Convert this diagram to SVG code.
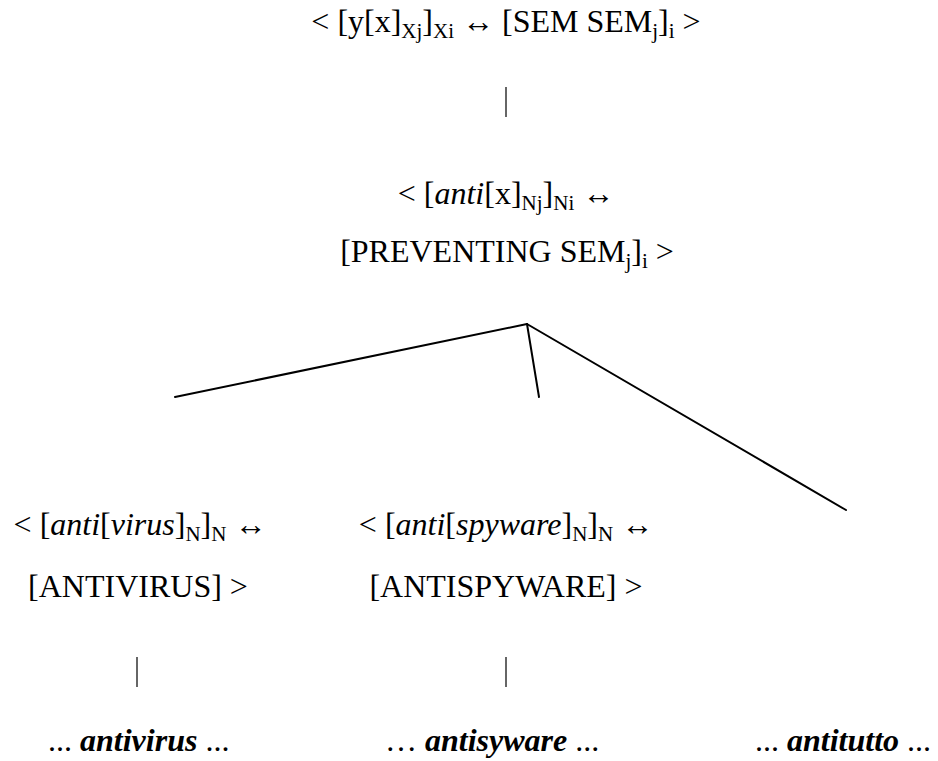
<svg xmlns="http://www.w3.org/2000/svg" width="938" height="761" viewBox="0 0 938 761">
<style>
text{font-family:"Liberation Serif","Times New Roman",serif;font-size:32px;fill:#000}
.c{text-anchor:middle}
.sub{font-size:21px}
.bi{font-weight:bold;font-style:italic}
.edge{stroke:#000;stroke-width:2;fill:none;stroke-linecap:round}
.bar{stroke:#333;stroke-width:1.5}
</style>
<rect width="938" height="761" fill="#fff"/>
<g id="connectors">
<line class="bar" x1="506" y1="87" x2="506" y2="117"/>
<line class="edge" x1="527" y1="324" x2="175" y2="397"/>
<line class="edge" x1="527" y1="324" x2="539" y2="397"/>
<line class="edge" x1="527" y1="324" x2="846" y2="510"/>
<line class="bar" x1="137" y1="657" x2="137" y2="687"/>
<line class="bar" x1="506" y1="657" x2="506" y2="687"/>
</g>
<g id="node-schema">
<text class="c" x="506" y="32">&lt; [y[x]<tspan class="sub" dy="6">Xj</tspan><tspan dy="-6">]</tspan><tspan class="sub" dy="6">Xi</tspan><tspan dy="-6"> ↔ [SEM SEM</tspan><tspan class="sub" dy="6">j</tspan><tspan dy="-6">]</tspan><tspan class="sub" dy="6">i</tspan><tspan dy="-6"> &gt;</tspan></text>
</g>
<g id="node-anti">
<text class="c" x="506" y="204">&lt; [<tspan font-style="italic">anti</tspan>[x]<tspan class="sub" dy="6">Nj</tspan><tspan dy="-6">]</tspan><tspan class="sub" dy="6">Ni</tspan><tspan dy="-6"> ↔</tspan></text>
<text class="c" x="507" y="262">[PREVENTING SEM<tspan class="sub" dy="6">j</tspan><tspan dy="-6">]</tspan><tspan class="sub" dy="6">i</tspan><tspan dy="-6"> &gt;</tspan></text>
</g>
<g id="node-antivirus">
<text class="c" x="140" y="535">&lt; [<tspan font-style="italic">anti</tspan>[<tspan font-style="italic">virus</tspan>]<tspan class="sub" dy="6">N</tspan><tspan dy="-6">]</tspan><tspan class="sub" dy="6">N</tspan><tspan dy="-6"> ↔</tspan></text>
<text class="c" x="138" y="597">[ANTIVIRUS] &gt;</text>
</g>
<g id="node-antispyware">
<text class="c" x="506" y="535">&lt; [<tspan font-style="italic">anti</tspan>[<tspan font-style="italic">spyware</tspan>]<tspan class="sub" dy="6">N</tspan><tspan dy="-6">]</tspan><tspan class="sub" dy="6">N</tspan><tspan dy="-6"> ↔</tspan></text>
<text class="c" x="506" y="597">[ANTISPYWARE] &gt;</text>
</g>
<g id="token-antivirus">
<text x="48" y="751">... <tspan class="bi">antivirus</tspan> ...</text>
</g>
<g id="token-antisyware">
<text x="385" y="751">… <tspan class="bi">antisyware</tspan> ...</text>
</g>
<g id="token-antitutto">
<text x="755" y="751">... <tspan class="bi">antitutto</tspan> ...</text>
</g>
</svg>
